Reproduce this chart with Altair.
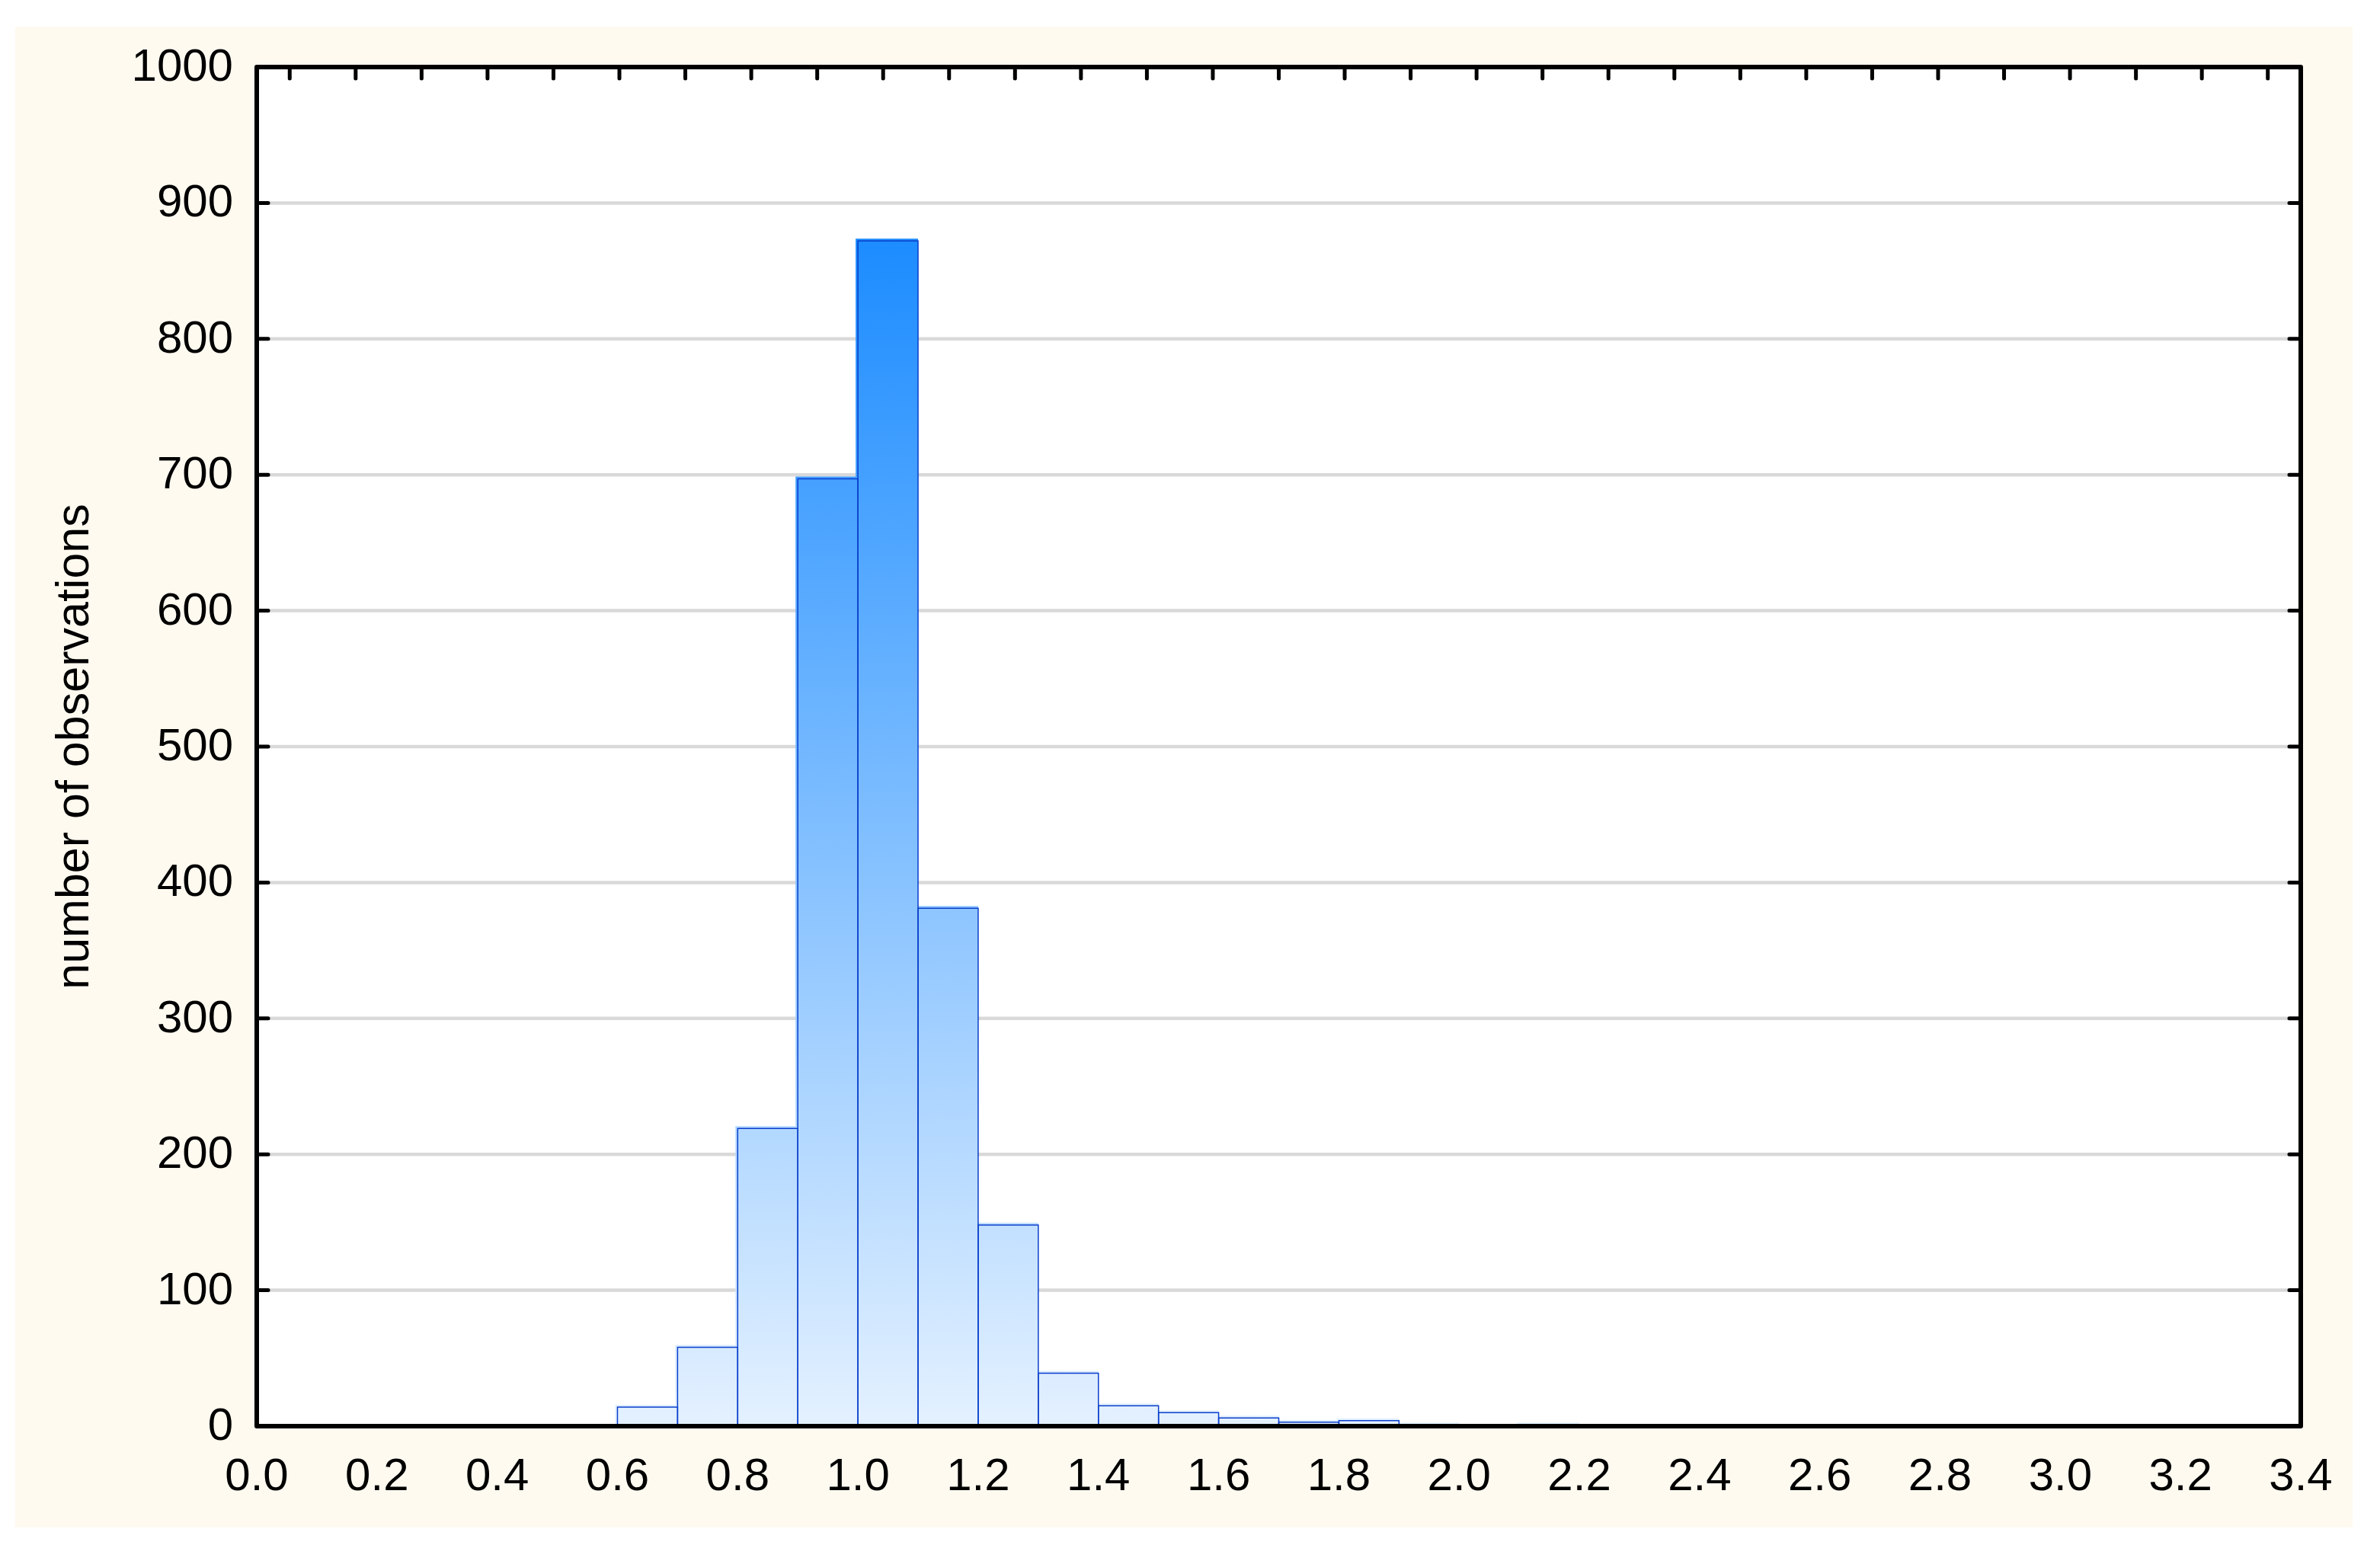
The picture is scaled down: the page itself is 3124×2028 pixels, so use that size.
import altair as alt
import pandas as pd

# ---------------- data ----------------
bin_starts = [0.0, 0.1, 0.2, 0.3, 0.4, 0.5, 0.6, 0.7, 0.8, 0.9, 1.0, 1.1, 1.2, 1.3,
              1.4, 1.5, 1.6, 1.7, 1.8, 1.9, 2.0, 2.1, 2.2, 2.3, 2.4, 2.5, 2.6, 2.7,
              2.8, 2.9, 3.0, 3.1, 3.2, 3.3]
counts = [0, 0, 0, 0, 0, 0, 14, 58, 219, 697, 872, 381, 148, 39,
          15, 10, 6, 3, 4, 1, 0, 1, 0, 0, 0, 0, 0, 0,
          0, 0, 0, 0, 0, 0]
bin_width = 0.1

x_tick_values = [0.0, 0.2, 0.4, 0.6, 0.8, 1.0, 1.2, 1.4, 1.6, 1.8, 2.0, 2.2, 2.4,
                 2.6, 2.8, 3.0, 3.2, 3.4]
x_tick_labels = ["0.0", "0.2", "0.4", "0.6", "0.8", "1.0", "1.2", "1.4", "1.6",
                 "1.8", "2.0", "2.2", "2.4", "2.6", "2.8", "3.0", "3.2", "3.4"]
y_tick_values = [0, 100, 200, 300, 400, 500, 600, 700, 800, 900, 1000]
y_tick_labels = ["0", "100", "200", "300", "400", "500", "600", "700", "800",
                 "900", "1000"]
grid_values = [100, 200, 300, 400, 500, 600, 700, 800, 900]
n_top_slots = 31
top_tick_values = [(i + 0.5) * 3.4 / n_top_slots for i in range(n_top_slots)]

y_title = "number of observations"

# ---------------- layout / style ----------------
W, H = 2683, 1784
PAD = {"left": 329, "top": 80, "right": 68, "bottom": 133}
FONT = "Liberation Sans"
CREAM = "#fffaf0"
OUTLINE = "#0a3fcc"
C_LOW = (228, 241, 255)
C_HIGH = (28, 140, 255)
C_MAXV = 873.0


def grad_color(v):
    t = max(0.0, min(1.0, v / C_MAXV))
    r, g, b = (round(lo + (hi - lo) * t) for lo, hi in zip(C_LOW, C_HIGH))
    return f"#{r:02x}{g:02x}{b:02x}"


xscale = alt.Scale(domain=[0, 3.4], nice=False, zero=False)
yscale = alt.Scale(domain=[0, 1000], nice=False)

bars = pd.DataFrame({
    "start": bin_starts,
    "end": [round(s + bin_width, 2) for s in bin_starts],
    "count": counts,
})
bars["base"] = 0
bars_nz = bars[bars["count"] > 0].reset_index(drop=True)

one = pd.DataFrame({"a": [0]})

cream = alt.Chart(one).mark_rect(fill=CREAM).encode(
    x=alt.value(-317), x2=alt.value(2751), y=alt.value(-53), y2=alt.value(1917)
)
white = alt.Chart(one).mark_rect(fill="white").encode(
    x=alt.value(0), x2=alt.value(W), y=alt.value(0), y2=alt.value(H)
)

grid = alt.Chart(pd.DataFrame({"v": grid_values})).mark_rule(
    color="#d9d9d9", strokeWidth=4.5
).encode(
    y=alt.Y("v:Q", scale=yscale, axis=None),
    x=alt.value(0), x2=alt.value(W),
)

fill_layers = []
for _, row in bars_nz.iterrows():
    gradient = alt.LinearGradient(
        gradient="linear",
        stops=[
            alt.GradientStop(color=grad_color(row["count"]), offset=0),
            alt.GradientStop(color=grad_color(0), offset=1),
        ],
        x1=0, x2=0, y1=0, y2=1,
    )
    fl = alt.Chart(pd.DataFrame([row])).mark_rect(
        fill=gradient, xOffset=-3, yOffset=-3
    ).encode(
        x=alt.X("start:Q", scale=xscale, axis=None),
        x2="end:Q",
        y=alt.Y("count:Q", scale=yscale, axis=None),
        y2="base:Q",
    )
    fill_layers.append(fl)

outline = alt.Chart(bars_nz).mark_rect(
    fill="transparent", stroke=OUTLINE, strokeWidth=1.5
).encode(
    x=alt.X("start:Q", scale=xscale, axis=None),
    x2="end:Q",
    y=alt.Y("count:Q", scale=yscale, axis=None),
    y2="base:Q",
)

tick_style = dict(color="black", strokeWidth=5, strokeCap="round")
gdf = pd.DataFrame({"v": grid_values})
left_ticks = alt.Chart(gdf).mark_rule(**tick_style).encode(
    y=alt.Y("v:Q", scale=yscale, axis=None), x=alt.value(0), x2=alt.value(15)
)
right_ticks = alt.Chart(gdf).mark_rule(**tick_style).encode(
    y=alt.Y("v:Q", scale=yscale, axis=None), x=alt.value(W - 15), x2=alt.value(W)
)
top_ticks = alt.Chart(pd.DataFrame({"t": top_tick_values})).mark_rule(**tick_style).encode(
    x=alt.X("t:Q", scale=xscale, axis=None), y=alt.value(0), y2=alt.value(15)
)

frame = alt.Chart(one).mark_rect(
    fill="transparent", stroke="black", strokeWidth=6, strokeJoin="round"
).encode(x=alt.value(0), x2=alt.value(W), y=alt.value(0), y2=alt.value(H))

# axis labels and title as text, positioned through the scales
x_labels = alt.Chart(pd.DataFrame({"v": x_tick_values, "lab": x_tick_labels})).mark_text(
    font=FONT, fontSize=60, color="black", align="center", baseline="top"
).encode(
    x=alt.X("v:Q", scale=xscale, axis=None), y=alt.value(H + 37), text="lab:N"
)
y_labels = alt.Chart(pd.DataFrame({"v": y_tick_values, "lab": y_tick_labels})).mark_text(
    font=FONT, fontSize=60, color="black", align="right", baseline="middle"
).encode(
    y=alt.Y("v:Q", scale=yscale, axis=None), x=alt.value(-31), text="lab:N"
)
title = alt.Chart(pd.DataFrame({"t": [y_title]})).mark_text(
    font=FONT, fontSize=61, color="black", align="center", baseline="middle", angle=270
).encode(x=alt.value(-239), y=alt.value(H / 2), text="t:N")

chart = alt.layer(
    cream, white, grid, *fill_layers, outline, left_ticks, right_ticks, top_ticks,
    frame, x_labels, y_labels, title
).properties(
    width=W, height=H,
    autosize=alt.AutoSizeParams(type="none"),
    padding=PAD,
    background="white",
).configure_view(strokeWidth=0)

chart.save("out.html", embed_options={"renderer": "svg", "actions": False})
